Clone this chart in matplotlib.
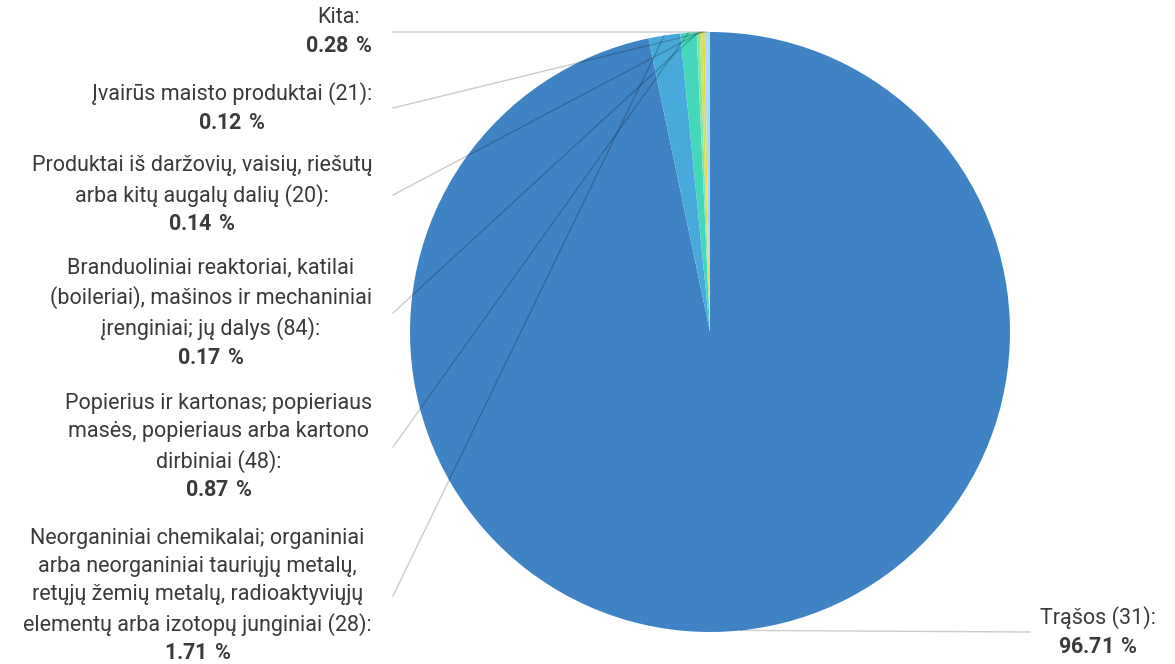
import matplotlib.pyplot as plt
import numpy as np

plt.rcParams['font.family'] = ['Roboto', 'DejaVu Sans']
plt.rcParams['mathtext.fontset'] = 'custom'
plt.rcParams['mathtext.rm'] = 'Roboto'
plt.rcParams['mathtext.bf'] = 'Roboto:bold'

# slices, clockwise from 12 o'clock
names = [
    'Trąšos (31):',
    'Neorganiniai chemikalai; organiniai\narba neorganiniai tauriųjų metalų,\nretųjų žemių metalų, radioaktyviųjų\nelementų arba izotopų junginiai (28):',
    'Popierius ir kartonas; popieriaus\nmasės, popieriaus arba kartono\ndirbiniai (48):',
    'Branduoliniai reaktoriai, katilai\n(boileriai), mašinos ir mechaniniai\nįrenginiai; jų dalys (84):',
    'Produktai iš daržovių, vaisių, riešutų\narba kitų augalų dalių (20):',
    'Įvairūs maisto produktai (21):',
    'Kita:',
]
shares = [96.71, 1.71, 0.87, 0.17, 0.14, 0.12, 0.28]
colors = ['#3f83c4', '#48aadb', '#44d8ba', '#86e3a6', '#c9e35a', '#e9d44c', '#a7dcf2']

# label anchors in pixels (x, y of block centre), y measured from top
label_pos = [(1040, 632), (372, 596), (372, 447), (372, 313), (372, 195), (372, 108), (372, 32)]

W, H = 1175, 664
cx, cy, R = 710, 332, 300

fig = plt.figure(figsize=(W / 100, H / 100), dpi=100)
ax = fig.add_axes([0, 0, 1, 1])

wedges, _ = ax.pie(shares, colors=colors, startangle=90, counterclock=False,
                   center=(cx, H - cy), radius=R,
                   wedgeprops=dict(linewidth=0))
ax.set_xlim(0, W)
ax.set_ylim(0, H)
ax.set_aspect('equal')
ax.axis('off')

for w, name, val, (lx, ly) in zip(wedges, names, shares, label_pos):
    mid = np.deg2rad((w.theta1 + w.theta2) / 2)
    px = cx + R * np.cos(mid)
    py = (H - cy) + R * np.sin(mid)
    txt = name + '\n' + r'$\mathbf{' + '{:.2f}'.format(val) + r'\ \%}$'
    if lx > cx:
        ax.plot([px, lx - 10], [py, H - ly], color='black', alpha=0.2, lw=1, zorder=3)
        ax.text(lx, H - ly, txt, ha='left', va='center', multialignment='center',
                fontsize=15.5, color='#3a3a3a', linespacing=1.45)
    else:
        ax.plot([lx + 21, px], [H - ly, py], color='black', alpha=0.2, lw=1, zorder=3)
        ax.text(lx, H - ly, txt, ha='right', va='center', multialignment='center',
                fontsize=15.5, color='#3a3a3a', linespacing=1.45)

fig.savefig('out.png', dpi=100)
